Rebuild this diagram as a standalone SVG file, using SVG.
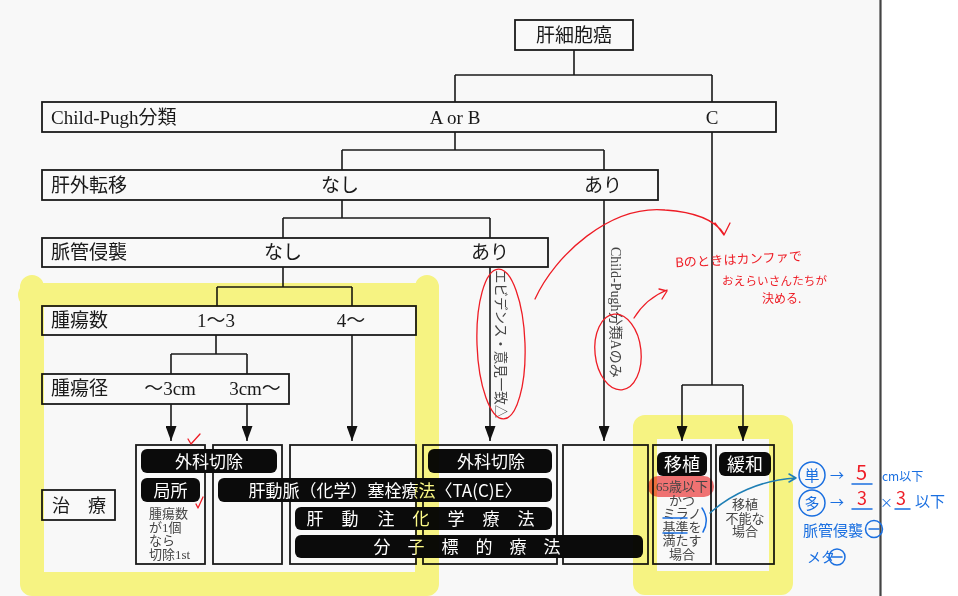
<svg xmlns="http://www.w3.org/2000/svg" width="958" height="596" viewBox="0 0 958 596" xml:lang="ja">
<defs>
<style>
.box{fill:#f9f9f9;stroke:#1a1a1a;stroke-width:1.8}
.lbl{font-family:'Liberation Serif','Noto Sans CJK JP',serif;font-size:19px;fill:#1a1a1a}
.mid{text-anchor:middle}
.pill{fill:#0b0b0b}
.pt{font-family:'Noto Sans CJK JP','Noto Sans',sans-serif;font-size:17px;fill:#ffffff;text-anchor:middle}
.sm{font-family:'Liberation Serif','Noto Sans CJK JP',serif;font-size:13px;fill:#444}
.ln{fill:none;stroke:#1a1a1a;stroke-width:1.6}
.hl{fill:none;stroke:#fdfa86;stroke-width:24;stroke-linecap:round;mix-blend-mode:multiply}
.red{fill:none;stroke:#ee1c25;stroke-width:1.3;stroke-linecap:round;stroke-linejoin:round}
.rt{font-family:'Noto Sans CJK JP',sans-serif;fill:#ee1c25}
.blu{fill:none;stroke:#1a6fe0;stroke-width:1.5;stroke-linecap:round;stroke-linejoin:round}
.bt{font-family:'Noto Sans CJK JP',sans-serif;fill:#1a6fe0}
</style>
<marker id="ah" markerUnits="userSpaceOnUse" markerWidth="15" markerHeight="11" refX="15" refY="5.5" orient="auto">
<path d="M0,0 L15,5.5 L0,11 z" fill="#111"/>
</marker>
</defs>

<rect x="0" y="0" width="958" height="596" fill="#ffffff"/>
<rect x="0" y="0" width="880" height="596" fill="#f8f8f8"/>
<line x1="880.5" y1="0" x2="880.5" y2="596" stroke="#444" stroke-width="2.2"/>

<g id="connectors">
<path class="ln" d="M574,50 V75 M455,75 H712 M455,75 V102 M712,75 V102"/>
<path class="ln" d="M455,132 V150 M342,150 H604 M342,150 V170 M604,150 V170"/>
<path class="ln" d="M342,200 V218 M283,218 H490 M283,218 V238 M490,218 V238"/>
<path class="ln" d="M283,267 V287 M217,287 H352 M217,287 V306 M352,287 V306"/>
<path class="ln" d="M216,335 V354 M171,354 H247 M171,354 V374 M247,354 V374"/>
<path class="ln" d="M712,132 V385 M682,385 H743"/>
<line class="ln" x1="171" y1="404" x2="171" y2="441" marker-end="url(#ah)"/>
<line class="ln" x1="247" y1="404" x2="247" y2="441" marker-end="url(#ah)"/>
<line class="ln" x1="352" y1="335" x2="352" y2="441" marker-end="url(#ah)"/>
<line class="ln" x1="490" y1="267" x2="490" y2="441" marker-end="url(#ah)"/>
<line class="ln" x1="604" y1="200" x2="604" y2="441" marker-end="url(#ah)"/>
<line class="ln" x1="682" y1="385" x2="682" y2="441" marker-end="url(#ah)"/>
<line class="ln" x1="743" y1="385" x2="743" y2="441" marker-end="url(#ah)"/>
</g>

<g id="n-hcc">
<rect class="box" x="515" y="20" width="118" height="30"/>
<text class="lbl mid" x="574" y="42">肝細胞癌</text>
</g>
<g id="n-childpugh">
<rect class="box" x="42" y="102" width="734" height="30"/>
<text class="lbl" x="51" y="124">Child-Pugh分類</text>
<text class="lbl mid" x="455" y="124">A or B</text>
<text class="lbl mid" x="712" y="124">C</text>
</g>
<g id="n-meta">
<rect class="box" x="42" y="170" width="616" height="30"/>
<text class="lbl" x="51" y="192">肝外転移</text>
<text class="lbl mid" x="340" y="192">なし</text>
<text class="lbl mid" x="603" y="192">あり</text>
</g>
<g id="n-vasc">
<rect class="box" x="42" y="238" width="506" height="29"/>
<text class="lbl" x="51" y="259">脈管侵襲</text>
<text class="lbl mid" x="283" y="259">なし</text>
<text class="lbl mid" x="490" y="259">あり</text>
</g>
<g id="n-num">
<rect class="box" x="42" y="306" width="374" height="29"/>
<text class="lbl" x="51" y="327">腫瘍数</text>
<text class="lbl mid" x="216" y="327">1〜3</text>
<text class="lbl mid" x="351" y="327">4〜</text>
</g>
<g id="n-size">
<rect class="box" x="42" y="374" width="247" height="30"/>
<text class="lbl" x="51" y="395">腫瘍径</text>
<text class="lbl mid" x="170" y="395">〜3cm</text>
<text class="lbl mid" x="255" y="395">3cm〜</text>
</g>
<g id="n-vtext1">
<text class="sm" style="font-size:13.5px" transform="translate(496,270) rotate(90)">エビデンス・意見一致△</text>
</g>
<g id="n-vtext2">
<text class="sm" style="font-size:14px" transform="translate(611,247) rotate(90)">Child-Pugh分類Aのみ</text>
</g>
<g id="n-treat-label">
<rect class="box" x="42" y="490" width="73" height="30"/>
<text class="lbl" x="52" y="512" style="font-size:18px">治　療</text>
</g>

<g id="n-treat-boxes">
<rect class="box" x="136" y="445" width="69" height="119"/>
<rect class="box" x="213" y="445" width="69" height="119"/>
<rect class="box" x="290" y="445" width="126" height="119"/>
<rect class="box" x="423" y="445" width="134" height="119"/>
<rect class="box" x="563" y="445" width="85" height="119"/>
<rect class="box" x="653" y="445" width="58" height="119"/>
<rect class="box" x="716" y="445" width="58" height="119"/>
</g>

<g id="n-surgery1">
<rect class="pill" x="141" y="449" width="136" height="24" rx="6"/>
<text class="pt" x="209" y="467.5">外科切除</text>
</g>
<g id="n-local">
<rect class="pill" x="141" y="478" width="59" height="24" rx="6"/>
<text class="pt" x="170.5" y="496.5">局所</text>
<text class="sm" x="149" y="518">腫瘍数</text>
<text class="sm" x="149" y="531.5">が1個</text>
<text class="sm" x="149" y="545">なら</text>
<text class="sm" x="149" y="558.5">切除1st</text>
</g>
<g id="n-tace">
<rect class="pill" x="218" y="478" width="334" height="24" rx="6"/>
<text class="pt" x="385" y="496.5">肝動脈（化学）塞栓療法〈TA(C)E〉</text>
</g>
<g id="n-haic">
<rect class="pill" x="295" y="507" width="257" height="23" rx="6"/>
<text class="pt" x="315 350 386 421 456 491 526" y="525">肝動注化学療法</text>
</g>
<g id="n-molecular">
<rect class="pill" x="295" y="535" width="348" height="23" rx="6"/>
<text class="pt" x="382 416 450 484 518 552" y="553">分子標的療法</text>
</g>
<g id="n-surgery2">
<rect class="pill" x="428" y="449" width="124" height="24" rx="6"/>
<text class="pt" x="491" y="467.5">外科切除</text>
</g>
<g id="n-transplant">
<rect class="pill" x="657" y="452" width="50" height="24" rx="6"/>
<text class="pt" x="682" y="471" style="font-size:18px">移植</text>
<rect x="648" y="476" width="66" height="21" rx="10" fill="#f57575" style="mix-blend-mode:multiply"/>
<g class="sm" style="text-anchor:middle">
<text x="682" y="491">65歳以下</text>
<text x="682" y="504.5">かつ</text>
<text x="682" y="518">ミラノ</text>
<text x="682" y="531.5">基準を</text>
<text x="682" y="545">満たす</text>
<text x="682" y="558.5">場合</text>
</g>
</g>
<g id="n-palliative">
<rect class="pill" x="719" y="452" width="52" height="24" rx="6"/>
<text class="pt" x="745" y="471" style="font-size:18px">緩和</text>
<g class="sm" style="text-anchor:middle">
<text x="745" y="509">移植</text>
<text x="745" y="522.5">不能な</text>
<text x="745" y="536">場合</text>
</g>
</g>

<g id="highlights">
<path class="hl" d="M32,287 V584 M427,287 V584 M30,295 H427 M32,584 H427"/>
<path class="hl" d="M645,427 V583 M781,427 V583 M645,427 H781 M645,583 H781"/>
</g>

<g id="red-notes">
<ellipse class="red" cx="501" cy="344" rx="24" ry="75" transform="rotate(-2 501 344)"/>
<path class="red" d="M535,299 C555,255 610,205 665,210 C695,212 715,220 724,234 M715,223 L724,235 L730,223"/>
<ellipse class="red" cx="618" cy="352" rx="23" ry="38" transform="rotate(-6 618 352)"/>
<path class="red" d="M634,318 C642,305 652,296 667,290 M659,289 L667,291 L662,299"/>
<path class="red" d="M188,439 L191,444 L200,434 M196,504 L198,508 L203,497"/>
<text class="rt" x="675" y="264" style="font-size:13px" textLength="127" lengthAdjust="spacing" transform="rotate(-3 738 258)">Bのときはカンファで</text>
<text class="rt" x="722" y="285" style="font-size:11.5px" textLength="105" lengthAdjust="spacing">おえらいさんたちが</text>
<text class="rt" x="762" y="303" style="font-size:12px">決める.</text>
</g>

<g id="blue-notes">
<path class="blu" d="M663,518 H687 M663,533 H687 M702,508 Q710,520 703,532"/>
<path class="blu" style="stroke:#1f7fb5" d="M710,513 C730,495 760,480 796,478 M789,474 L796,478 L789,482"/>
<circle class="blu" cx="812" cy="475" r="13"/>
<text class="bt" x="812" y="480.5" style="font-size:15px;text-anchor:middle">単</text>
<text class="bt" x="830" y="480" style="font-size:14px">→</text>
<text class="rt" x="856" y="480" style="font-size:20px">5</text>
<path class="blu" d="M852,484 H872"/>
<text class="bt" x="882" y="481" style="font-size:12px">cm以下</text>
<circle class="blu" cx="812" cy="503" r="13"/>
<text class="bt" x="812" y="508.5" style="font-size:15px;text-anchor:middle">多</text>
<text class="bt" x="830" y="507" style="font-size:14px">→</text>
<text class="rt" x="857" y="505" style="font-size:18px">3</text>
<path class="blu" d="M852,509 H872"/>
<text class="bt" x="880" y="507" style="font-size:13px">×</text>
<text class="rt" x="896" y="505" style="font-size:18px">3</text>
<path class="blu" d="M895,509 H910"/>
<text class="bt" x="915" y="507" style="font-size:15px">以下</text>
<text class="bt" x="803" y="536" style="font-size:15px">脈管侵襲</text>
<circle class="blu" cx="874" cy="529" r="8.5"/>
<path class="blu" d="M869,529 H879"/>
<text class="bt" x="807" y="562" style="font-size:14px">メタ</text>
<circle class="blu" cx="837" cy="557" r="8"/>
<path class="blu" d="M832,557 H842"/>
</g>
</svg>
